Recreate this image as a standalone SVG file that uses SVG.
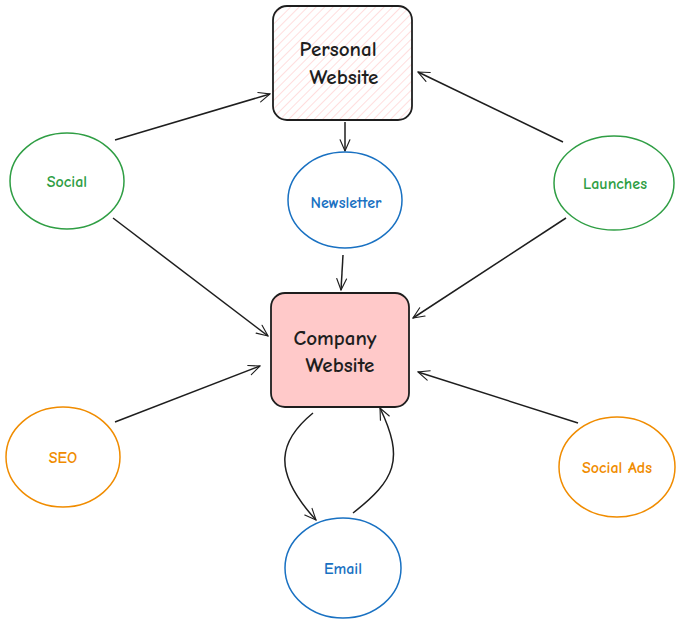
<svg xmlns="http://www.w3.org/2000/svg" width="680" height="625" viewBox="0 0 680 625">
<defs>
<pattern id="hatch" patternUnits="userSpaceOnUse" width="6" height="6" patternTransform="rotate(45)">
<rect width="6" height="6" fill="#ffffff"/>
<line x1="0" y1="0" x2="0" y2="6" stroke="#ffc9c9" stroke-width="1.2"/>
</pattern>
<marker id="arr" viewBox="0 0 20 20" refX="18" refY="10" markerWidth="14" markerHeight="14" markerUnits="userSpaceOnUse" orient="auto">
<path d="M2,3 L18,10 L2,17" fill="none" stroke="#1e1e1e" stroke-width="1.6" stroke-linecap="round"/>
</marker>
</defs>
<style>
text{font-family:"Comic Neue","Liberation Sans",sans-serif;text-anchor:middle;font-weight:bold}
.box{stroke:#1e1e1e;stroke-width:1.8}
.lbl{font-size:21px;fill:#1e1e1e}
.small{font-size:16px}
.green{fill:none;stroke:#2f9e44;stroke-width:1.5}
.blue{fill:none;stroke:#1971c2;stroke-width:1.5}
.orange{fill:none;stroke:#f08c00;stroke-width:1.5}
.tg{fill:#2f9e44}.tb{fill:#1971c2}.to{fill:#f08c00}
.c{fill:none;stroke:#1e1e1e;stroke-width:1.5;marker-end:url(#arr)}
</style>
<g id="connectors">
<path class="c" d="M115,140 L270,94"/>
<path class="c" d="M563,142 L418,72"/>
<path class="c" d="M345,122 L345,151"/>
<path class="c" d="M343,255 L341,290"/>
<path class="c" d="M113,218 L268,336"/>
<path class="c" d="M566,218 L413,318"/>
<path class="c" d="M115,422 L260,366"/>
<path class="c" d="M578,423 L418,372"/>
<path class="c" d="M313,413 C280,440 270,470 316,520"/>
<path class="c" d="M353,513 C395,480 405,460 380,408"/>
</g>
<g id="personal">
<rect class="box" x="273" y="6" width="139" height="114" rx="14" fill="url(#hatch)"/>
<text class="lbl" x="338" y="56">Personal</text>
<text class="lbl" x="344" y="84">Website</text>
</g>
<g id="company">
<rect class="box" x="271" y="293" width="138" height="114" rx="14" fill="#ffc9c9"/>
<text class="lbl" x="335" y="345">Company</text>
<text class="lbl" x="340" y="372">Website</text>
</g>
<g id="newsletter">
<ellipse class="blue" cx="345" cy="200" rx="57" ry="48"/>
<text class="small tb" x="346" y="208">Newsletter</text>
</g>
<g id="social">
<ellipse class="green" cx="67" cy="181" rx="57" ry="48"/>
<text class="small tg" x="67" y="187">Social</text>
</g>
<g id="launches">
<ellipse class="green" cx="614" cy="183" rx="60" ry="47"/>
<text class="small tg" x="615" y="189">Launches</text>
</g>
<g id="seo">
<ellipse class="orange" cx="63" cy="457" rx="57" ry="50"/>
<text class="small to" x="63" y="463">SEO</text>
</g>
<g id="socialads">
<ellipse class="orange" cx="617" cy="467" rx="58" ry="50"/>
<text class="small to" x="617" y="473">Social Ads</text>
</g>
<g id="email">
<ellipse class="blue" cx="343" cy="568" rx="58" ry="50"/>
<text class="small tb" x="343" y="574">Email</text>
</g>
</svg>
